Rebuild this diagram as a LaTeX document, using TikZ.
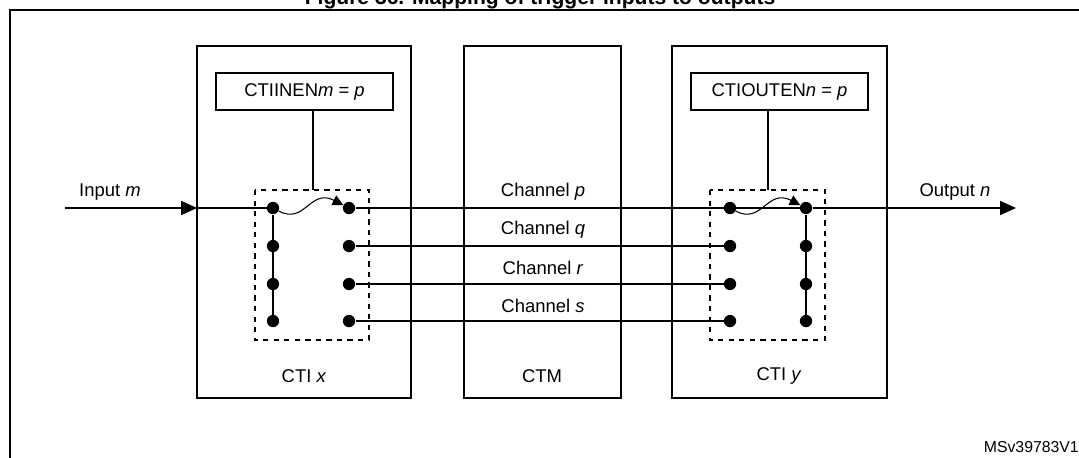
\documentclass[tikz,border=0pt]{standalone}
\usepackage{fontspec}
\setmainfont{Liberation Sans}
\usetikzlibrary{arrows.meta}
\tikzset{
  dot/.style={circle,fill=black,inner sep=0pt,minimum size=7pt},
  blk/.style={draw,line width=0.6pt},
  wire/.style={line width=0.6pt},
  lbl/.style={font=\fontsize{10.5pt}{12pt}\selectfont,inner sep=1pt}
}
\begin{document}
\begin{tikzpicture}[x=0.02cm,y=-0.02cm]
  \useasboundingbox (0,0) rectangle (1079,457);
  % title, partly above the page
  \node[font=\bfseries\fontsize{12pt}{14pt}\selectfont] (title) at (540,-1) {Figure 36. Mapping of trigger inputs to outputs};
  \draw[line width=1.2pt] (10,470) -- (10,10) -- (1090,10);
  % blocks
  \draw[blk] (197,46) rectangle (411,398);
  \draw[blk] (464,46) rectangle (621,398);
  \draw[blk] (672,46) rectangle (887,398);
  \node[blk,minimum width=3.54cm,minimum height=0.74cm,lbl] (inen) at (304.5,91.5) {CTIINEN\textit{m} = \textit{p}};
  \node[blk,minimum width=3.54cm,minimum height=0.74cm,lbl] (outen) at (779.5,91.5) {CTIOUTEN\textit{n} = \textit{p}};
  \node[lbl] at (304,376) {CTI \textit{x}};
  \node[lbl] at (542,376) {CTM};
  \node[lbl] at (779,376) {CTI \textit{y}};
  % switch matrices
  \draw[dashed,wire] (255,190) rectangle (369,340);
  \draw[dashed,wire] (710,190) rectangle (825,340);
  \coordinate (intop) at (313,190);
  \coordinate (outtop) at (768,190);
  \draw[wire] (inen.south -| intop) -- (intop);
  \draw[wire] (outen.south -| outtop) -- (outtop);
  \foreach \i/\y in {1/208,2/246,3/284,4/321} {
    \node[dot] (xl\i) at (273,\y) {};
    \node[dot] (xr\i) at (349,\y) {};
    \node[dot] (yl\i) at (730,\y) {};
    \node[dot] (yr\i) at (806,\y) {};
  }
  \draw[wire] (xl1) -- (xl4);
  \draw[wire] (yr1) -- (yr4);
  % channels
  \draw[wire] (xr1) -- (yr1);
  \foreach \i in {2,3,4} \draw[wire] (xr\i) -- (yl\i);
  \node[lbl] at (543,192) {Channel \textit{p}};
  \node[lbl] at (543,230) {Channel \textit{q}};
  \node[lbl] at (543,268) {Channel \textit{r}};
  \node[lbl] at (543,306) {Channel \textit{s}};
  % input and output
  \coordinate (in) at (65,208);
  \coordinate (inend) at (197,208);
  \coordinate (out) at (1016,208);
  \draw[wire,-{Triangle[length=9pt,width=8pt]}] (in) -- (inend);
  \draw[wire] (inend) -- (xl1);
  \draw[wire,-{Triangle[length=9pt,width=8pt]}] (yr1) -- (out);
  \node[lbl] at (110,192) {Input \textit{m}};
  \node[lbl] at (955,192) {Output \textit{n}};
  % mapping arrows
  \draw[wire,-{Triangle[length=6pt,width=6pt]}] (xl1) .. controls (305,225) and (310,188) .. (xr1);
  \draw[wire,-{Triangle[length=6pt,width=6pt]}] (yl1) .. controls (762,225) and (767,188) .. (yr1);
  \node[font=\fontsize{9pt}{10pt}\selectfont,anchor=east] (ref) at (1085,447) {MSv39783V1};
\end{tikzpicture}
\end{document}
